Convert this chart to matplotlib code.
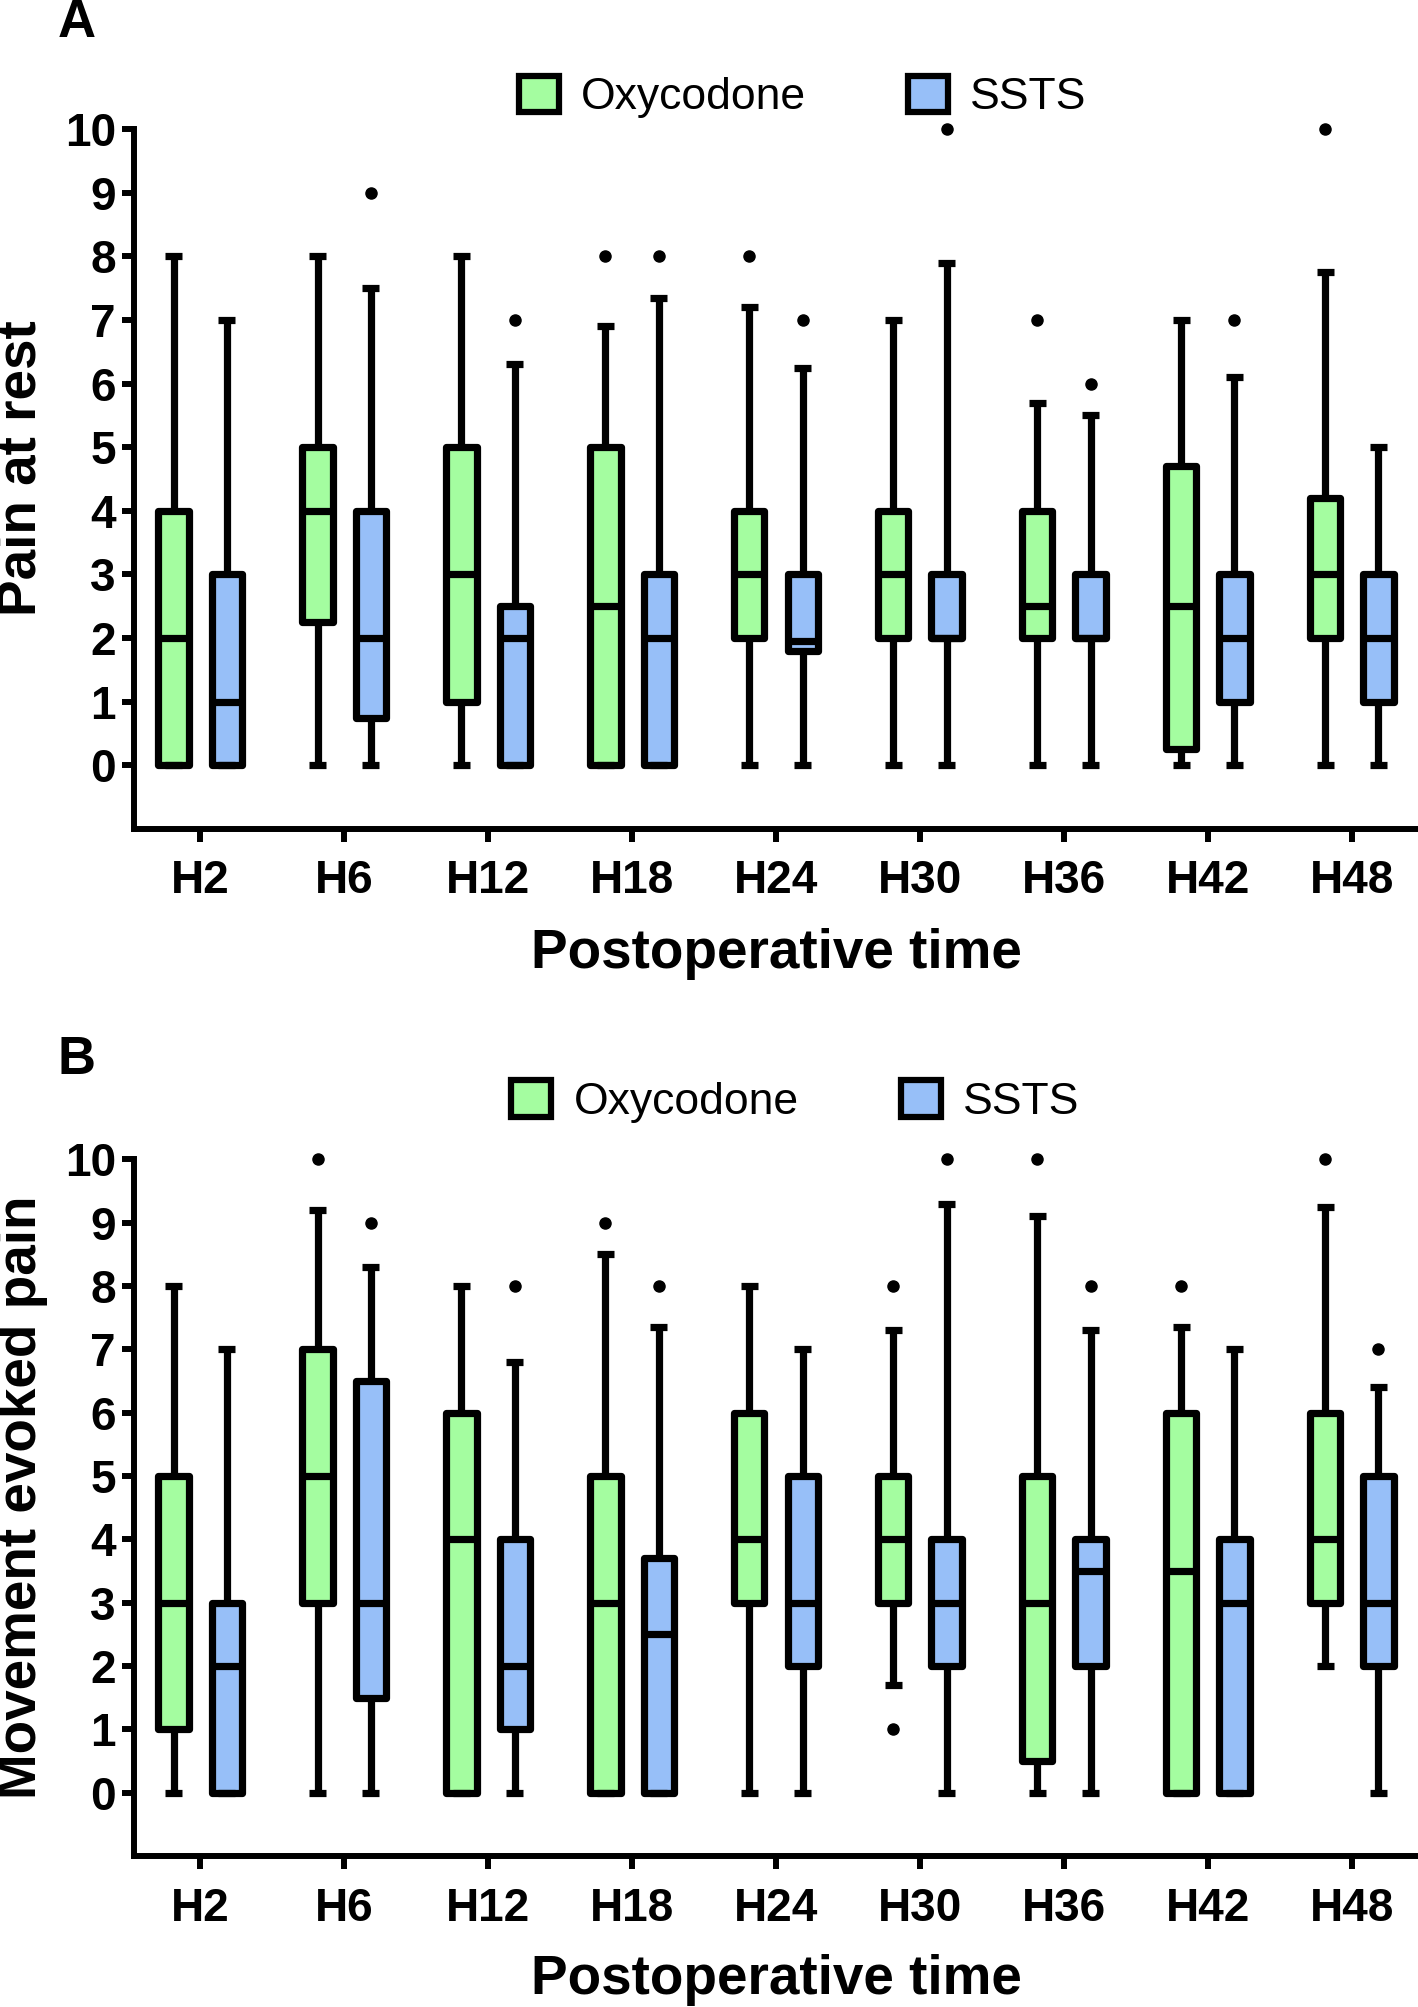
import matplotlib
matplotlib.use('Agg')
import matplotlib.pyplot as plt
from matplotlib.patches import Patch

plt.rcParams['font.family'] = ['Liberation Sans', 'DejaVu Sans']

GREEN = '#A4FDA0'
BLUE = '#97BFF8'

times = ['H2', 'H6', 'H12', 'H18', 'H24', 'H30', 'H36', 'H42', 'H48']

# (whislo, q1, median, q3, whishi) per time point
rest_oxy = [[0, 0, 2, 4, 8], [0, 2.25, 4, 5, 8], [0, 1, 3, 5, 8], [0, 0, 2.5, 5, 6.9],
            [0, 2, 3, 4, 7.2], [0, 2, 3, 4, 7], [0, 2, 2.5, 4, 5.7], [0, 0.25, 2.5, 4.7, 7],
            [0, 2, 3, 4.2, 7.75]]
rest_oxy_out = [[], [], [], [8], [8], [], [7], [], [10]]
rest_ssts = [[0, 0, 1, 3, 7], [0, 0.75, 2, 4, 7.5], [0, 0, 2, 2.5, 6.3], [0, 0, 2, 3, 7.35],
             [0, 1.8, 1.95, 3, 6.25], [0, 2, 2, 3, 7.9], [0, 2, 2, 3, 5.5], [0, 1, 2, 3, 6.1],
             [0, 1, 2, 3, 5]]
rest_ssts_out = [[], [9], [7], [8], [7], [10], [6], [7], []]

move_oxy = [[0, 1, 3, 5, 8], [0, 3, 5, 7, 9.2], [0, 0, 4, 6, 8], [0, 0, 3, 5, 8.5],
            [0, 3, 4, 6, 8], [1.7, 3, 4, 5, 7.3], [0, 0.5, 3, 5, 9.1], [0, 0, 3.5, 6, 7.35],
            [2, 3, 4, 6, 9.25]]
move_oxy_out = [[], [10], [], [9], [], [8, 1], [10], [8], [10]]
move_ssts = [[0, 0, 2, 3, 7], [0, 1.5, 3, 6.5, 8.3], [0, 1, 2, 4, 6.8], [0, 0, 2.5, 3.7, 7.35],
             [0, 2, 3, 5, 7], [0, 2, 3, 4, 9.3], [0, 2, 3.5, 4, 7.3], [0, 0, 3, 4, 7],
             [0, 2, 3, 5, 6.4]]
move_ssts_out = [[], [9], [8], [8], [], [10], [8], [], [7]]

OFF = 0.185; W = 0.21; CAPW = 0.12; LW = 5.2


def stats(rows, outs):
    return [dict(whislo=r[0], q1=r[1], med=r[2], q3=r[3], whishi=r[4], fliers=o)
            for r, o in zip(rows, outs)]


def draw(ax, oxy, oxy_out, ssts, ssts_out, ylabel):
    line = dict(color='black', linewidth=LW, solid_capstyle='butt')
    for rows, outs, col, dx in [(oxy, oxy_out, GREEN, -OFF), (ssts, ssts_out, BLUE, OFF)]:
        pos = [i + dx for i in range(len(times))]
        b = ax.bxp(stats(rows, outs), positions=pos, widths=W, capwidths=CAPW,
                   patch_artist=True, manage_ticks=False,
                   boxprops=dict(facecolor=col, edgecolor='black', linewidth=LW, joinstyle='round'),
                   whiskerprops=line, capprops=line, medianprops=line,
                   flierprops=dict(marker='o', markerfacecolor='black', markeredgecolor='black',
                                   markersize=8))
        for f in b['fliers']:
            f.set_clip_on(False)
    ax.set_xlim(-0.46, 8.46)
    ax.set_ylim(-1, 10)
    ax.set_xticks(range(len(times)))
    ax.set_xticklabels(times)
    ax.set_yticks(range(0, 11))
    for s in ['top', 'right']:
        ax.spines[s].set_visible(False)
    for s in ['left', 'bottom']:
        ax.spines[s].set_linewidth(4.3)
    ax.tick_params(width=4.3, length=9, labelsize=33)
    ax.tick_params(axis='x', pad=13)
    ax.tick_params(axis='y', pad=4)
    for t in ax.get_xticklabels() + ax.get_yticklabels():
        t.set_fontweight('bold')
    ax.set_ylabel(ylabel, fontsize=39.5, fontweight='bold')
    ax.set_xlabel('Postoperative time', fontsize=39.5, fontweight='bold')
    ax.yaxis.set_label_coords(-0.067, 0.515)
    ax.xaxis.set_label_coords(0.5, -0.141)


fig = plt.figure(figsize=(14.18, 20.07), dpi=100)
axA = fig.add_axes([0.0945, 0.587, 0.9055, 0.3487])
draw(axA, rest_oxy, rest_oxy_out, rest_ssts, rest_ssts_out, 'Pain at rest')
axB = fig.add_axes([0.0945, 0.0752, 0.9055, 0.3471])
draw(axB, move_oxy, move_oxy_out, move_ssts, move_ssts_out, 'Movement evoked pain')

handles = [Patch(facecolor=GREEN, edgecolor='black', linewidth=4.5, label='Oxycodone'),
           Patch(facecolor=BLUE, edgecolor='black', linewidth=4.5, label='SSTS')]
for x, y in [(0.566, 0.9517), (0.561, 0.451)]:
    fig.legend(handles=handles, loc='center', bbox_to_anchor=(x, y), ncol=2, frameon=False,
               fontsize=32, handlelength=0.9, handleheight=0.9, handletextpad=0.5,
               columnspacing=2.3)

fig.text(0.054, 0.9885, 'A', fontsize=38, fontweight='bold', ha='center', va='center')
fig.text(0.054, 0.4718, 'B', fontsize=38, fontweight='bold', ha='center', va='center')

fig.savefig('out.png', dpi=100)
